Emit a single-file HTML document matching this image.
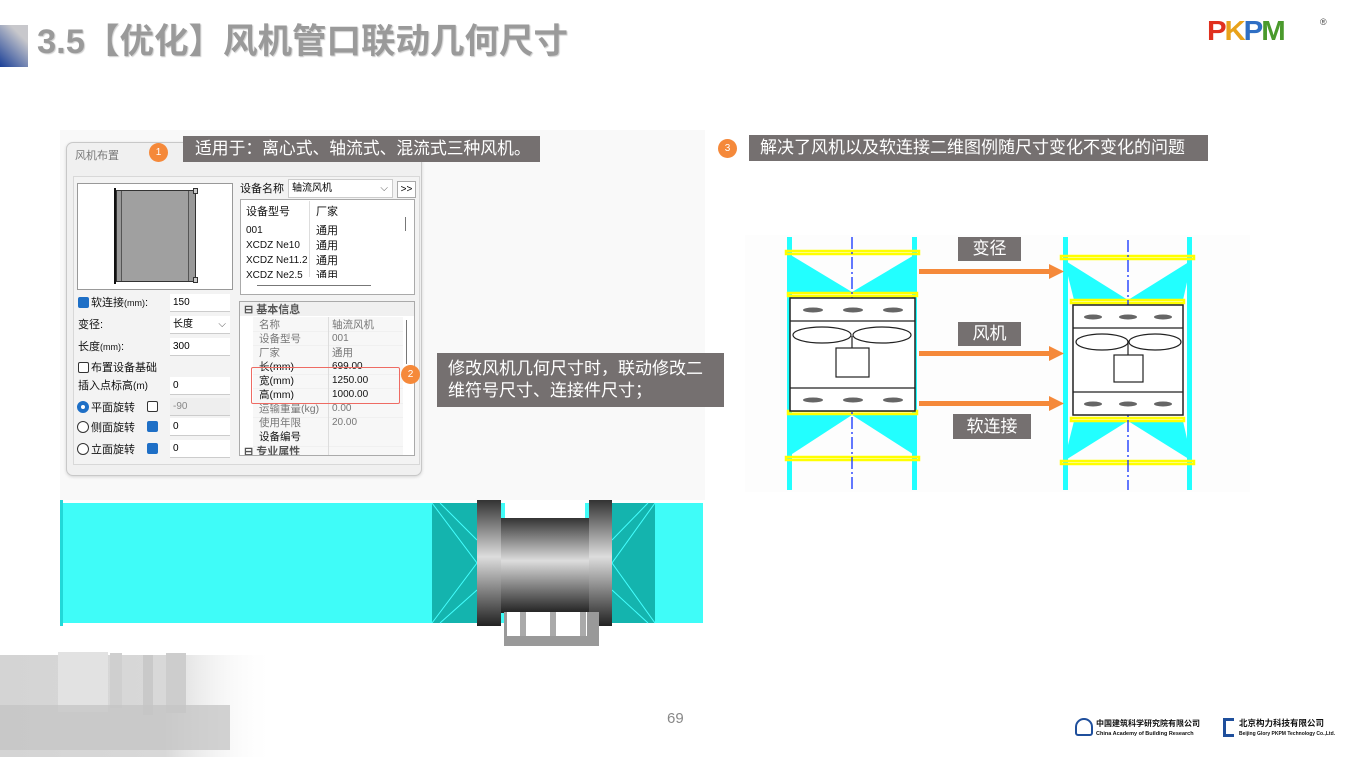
<!DOCTYPE html>
<html><head><meta charset="utf-8"><style>
*{margin:0;padding:0;box-sizing:border-box}
body{width:1352px;height:757px;position:relative;overflow:hidden;background:#fff;font-family:"Liberation Sans","Noto Sans CJK SC",sans-serif}
.a{position:absolute}
.lbl{position:absolute;background:#757070;color:#fff;font-size:16.8px;line-height:26px;white-space:nowrap}
.dot{position:absolute;width:19px;height:19px;border-radius:50%;background:#f5893a;color:#fff;font-size:10px;line-height:19px;text-align:center}
.t{position:absolute;font-size:11px;color:#111;white-space:nowrap;line-height:14px}
.g{color:#777}
.inp{position:absolute;background:#fff;border-bottom:1px solid #ccc;height:18px;font-size:10px;line-height:18px;padding-left:3px}
.cb{position:absolute;width:11px;height:11px;border:1px solid #333;border-radius:2px;background:#fff}
.cbk{background:#1e6fc6;border-color:#1e6fc6}
.rd{position:absolute;width:12px;height:12px;border:1px solid #333;border-radius:50%;background:#fff}
</style></head><body>

<!-- title -->
<div class="a" style="left:0;top:25px;width:28px;height:42px;background:linear-gradient(225deg,#c8c8cc 25%,#1a3f97 100%)"></div>
<div class="a" style="left:37px;top:21px;font-size:34.5px;font-weight:bold;color:#9a9a9a;white-space:nowrap;line-height:42px;text-shadow:1px 1px 1px #ccc">3.5【优化】风机管口联动几何尺寸</div>

<!-- PKPM logo -->
<div class="a" style="left:1207px;top:16px;font-size:28px;font-weight:900;letter-spacing:-2px;line-height:30px;font-family:'Liberation Sans',sans-serif;transform:scaleX(1.05);transform-origin:left">
<span style="color:#e0301e">P</span><span style="color:#e8a21a">K</span><span style="color:#2f6fc4">P</span><span style="color:#4a9a2c">M</span></div>
<div class="a" style="left:1320px;top:17px;font-size:9px;color:#444">®</div>

<!-- screenshot area -->
<div class="a" style="left:60px;top:130px;width:645px;height:370px;background:#f9f9f9"></div>

<!-- dialog -->
<div class="a" style="left:66px;top:142px;width:356px;height:334px;background:#f0f0f0;border:1px solid #c8c8c8;border-radius:7px;box-shadow:0 1px 3px rgba(0,0,0,.15)"></div>
<div class="t g" style="left:75px;top:149px;font-size:11px">风机布置</div>
<div class="a" style="left:73px;top:176px;width:347px;height:289px;border:1px solid #d8d8d8;background:#f3f3f3"></div>
<!-- preview -->
<div class="a" style="left:77px;top:183px;width:156px;height:107px;background:#fff;border:1px solid #999"></div>
<div class="a" style="left:114px;top:188px;width:2px;height:96px;background:#111"></div>
<div class="a" style="left:116px;top:190px;width:80px;height:92px;background:#999;border:1px solid #333"></div>
<div class="a" style="left:121px;top:191px;width:68px;height:90px;background:#a0a0a0;border-left:1px solid #555;border-right:1px solid #555"></div>
<div class="a" style="left:193px;top:188px;width:5px;height:6px;background:#ccc;border:1px solid #333"></div>
<div class="a" style="left:193px;top:277px;width:5px;height:6px;background:#ccc;border:1px solid #333"></div>

<!-- left form -->
<div class="cb cbk" style="left:78px;top:297px"></div>
<div class="t" style="left:91px;top:296px">软连接<span style="font-size:9px">(mm)</span>:</div>
<div class="inp" style="left:170px;top:294px;width:60px">150</div>
<div class="t" style="left:78px;top:318px">变径:</div>
<div class="inp" style="left:170px;top:316px;width:60px">长度<span style="position:absolute;right:4px;color:#555">⌵</span></div>
<div class="t" style="left:78px;top:340px">长度<span style="font-size:9px">(mm)</span>:</div>
<div class="inp" style="left:170px;top:338px;width:60px">300</div>
<div class="cb" style="left:78px;top:362px"></div>
<div class="t" style="left:91px;top:361px">布置设备基础</div>
<div class="t" style="left:78px;top:379px">插入点标高<span style="font-size:10px">(m)</span></div>
<div class="inp" style="left:170px;top:377px;width:60px">0</div>
<div class="rd" style="left:77px;top:401px;border:4px solid #1e6fc6"></div>
<div class="t" style="left:91px;top:401px">平面旋转</div>
<div class="cb" style="left:147px;top:401px"></div>
<div class="inp" style="left:170px;top:398px;width:60px;background:#eee;color:#888">-90</div>
<div class="rd" style="left:77px;top:421px"></div>
<div class="t" style="left:91px;top:421px">侧面旋转</div>
<div class="cb cbk" style="left:147px;top:421px"></div>
<div class="inp" style="left:170px;top:418px;width:60px">0</div>
<div class="rd" style="left:77px;top:443px"></div>
<div class="t" style="left:91px;top:443px">立面旋转</div>
<div class="cb cbk" style="left:147px;top:443px"></div>
<div class="inp" style="left:170px;top:440px;width:60px">0</div>

<!-- right top -->
<div class="t" style="left:240px;top:182px">设备名称</div>
<div class="inp" style="left:288px;top:179px;width:105px;border:1px solid #ccc;height:19px">轴流风机<span style="position:absolute;right:4px;color:#555">⌵</span></div>
<div class="a" style="left:397px;top:181px;width:19px;height:17px;border:1px solid #aaa;background:#fff;font-size:10px;text-align:center;line-height:15px">&gt;&gt;</div>
<div class="a" style="left:240px;top:199px;width:175px;height:96px;border:1px solid #aaa;background:#fff"></div>
<div class="a" style="left:309px;top:201px;width:1px;height:76px;background:#ddd"></div>
<div class="t" style="left:246px;top:205px">设备型号</div><div class="t" style="left:316px;top:205px">厂家</div>
<div class="t" style="left:246px;top:224px;font-size:10px">001</div><div class="t" style="left:316px;top:224px">通用</div>
<div class="t" style="left:246px;top:239px;font-size:10px">XCDZ Ne10</div><div class="t" style="left:316px;top:239px">通用</div>
<div class="t" style="left:246px;top:254px;font-size:10px">XCDZ Ne11.2</div><div class="t" style="left:316px;top:254px">通用</div>
<div class="a" style="left:241px;top:269px;width:158px;height:9px;overflow:hidden"><div class="t" style="left:5px;top:0;font-size:10px">XCDZ Ne2.5</div><div class="t" style="left:75px;top:0">通用</div></div>
<div class="a" style="left:257px;top:285px;width:114px;height:1px;background:#777"></div>
<div class="a" style="left:405px;top:217px;width:1px;height:14px;background:#777"></div>

<!-- properties -->
<div class="a" style="left:239px;top:301px;width:176px;height:155px;border:1px solid #aaa;background:#fff;overflow:hidden">
<div class="a" style="left:0;top:0;width:176px;height:14px;background:#f0f0f0"></div>
<div class="t" style="left:4px;top:1px;font-weight:bold;color:#555">⊟ 基本信息</div>
<div class="a" style="left:13px;top:15px;width:150px;height:142px;background:repeating-linear-gradient(#f7f7f7 0,#f7f7f7 14px,#e8e8e8 14px,#e8e8e8 14.4px)"></div>
<div class="a" style="left:88px;top:15px;width:1px;height:142px;background:#ddd"></div>
<div class="t g" style="left:19px;top:16px;font-size:10.5px">名称</div><div class="t g" style="left:92px;top:16px;font-size:10.5px">轴流风机</div>
<div class="t g" style="left:19px;top:30px;font-size:10.5px">设备型号</div><div class="t g" style="left:92px;top:30px;font-size:10px">001</div>
<div class="t g" style="left:19px;top:44px;font-size:10.5px">厂家</div><div class="t g" style="left:92px;top:44px;font-size:10.5px">通用</div>
<div class="t" style="left:19px;top:58px;font-size:10.5px">长(mm)</div><div class="t" style="left:92px;top:58px;font-size:10px">699.00</div>
<div class="t" style="left:19px;top:72px;font-size:10.5px">宽(mm)</div><div class="t" style="left:92px;top:72px;font-size:10px">1250.00</div>
<div class="t" style="left:19px;top:86px;font-size:10.5px">高(mm)</div><div class="t" style="left:92px;top:86px;font-size:10px">1000.00</div>
<div class="t g" style="left:19px;top:100px;font-size:10.5px">运输重量(kg)</div><div class="t g" style="left:92px;top:100px;font-size:10px">0.00</div>
<div class="t g" style="left:19px;top:114px;font-size:10.5px">使用年限</div><div class="t g" style="left:92px;top:114px;font-size:10px">20.00</div>
<div class="t" style="left:19px;top:128px;font-size:10.5px">设备编号</div>
<div class="t" style="left:4px;top:143px;font-weight:bold;color:#555">⊟ 专业属性</div>
<div class="a" style="left:166px;top:18px;width:1px;height:44px;background:#777"></div>
</div>
<div class="a" style="left:251px;top:367px;width:149px;height:37px;border:1.5px solid #ee6b63;border-radius:2px"></div>

<!-- labels -->
<div class="dot" style="left:149px;top:143px">1</div>
<div class="lbl" style="left:183px;top:136px;width:357px;padding-left:12px">适用于：离心式、轴流式、混流式三种风机。</div>
<div class="dot" style="left:401px;top:365px">2</div>
<div class="lbl" style="left:437px;top:353px;width:287px;height:54px;padding:5px 0 0 11px;line-height:22px;font-size:17px">修改风机几何尺寸时，联动修改二<br>维符号尺寸、连接件尺寸；</div>
<div class="dot" style="left:718px;top:139px">3</div>
<div class="lbl" style="left:749px;top:135px;width:459px;padding-left:11px;font-size:17px">解决了风机以及软连接二维图例随尺寸变化不变化的问题</div>

<svg class="a" style="left:0;top:0" width="1352" height="757">
<defs>
<linearGradient id="mg" x1="0" y1="0" x2="0" y2="1"><stop offset="0" stop-color="#333"/><stop offset=".45" stop-color="#ddd"/><stop offset="1" stop-color="#222"/></linearGradient>
<linearGradient id="bl" x1="0" y1="0" x2="1" y2="0"><stop offset="0" stop-color="#d4d4d4"/><stop offset=".6" stop-color="#d8d8d8"/><stop offset="1" stop-color="#fff" stop-opacity="0"/></linearGradient>
</defs>
<!-- duct -->
<rect x="60" y="503" width="643" height="120" fill="#3ffcf8"/>
<rect x="60" y="500" width="3" height="126" fill="#22d8d8"/>
<rect x="432" y="503" width="45" height="120" fill="#14b4ae"/>
<rect x="612" y="503" width="43" height="120" fill="#14b4ae"/>
<path d="M432 503L477 563L432 623M655 503L612 563L655 623" stroke="#4ff" stroke-width="1" fill="none"/>
<path d="M440 503L477 540M440 623L477 590M648 503L612 540M648 623L612 590" stroke="#4ff" stroke-width="1"/>
<rect x="477" y="500" width="24" height="126" fill="url(#mg)"/>
<rect x="589" y="500" width="23" height="126" fill="url(#mg)"/>
<rect x="501" y="518" width="88" height="95" fill="url(#mg)"/>
<rect x="505" y="500" width="80" height="18" fill="#fff"/>
<rect x="504" y="612" width="95" height="34" fill="#999"/>
<rect x="507" y="612" width="80" height="24" fill="#fff"/>
<rect x="520" y="612" width="6" height="24" fill="#aaa"/><rect x="550" y="612" width="6" height="24" fill="#aaa"/><rect x="580" y="612" width="6" height="24" fill="#aaa"/>

<!-- bottom-left building -->
<rect x="0" y="655" width="275" height="102" fill="url(#bl)"/>
<rect x="58" y="652" width="50" height="60" fill="#e2e2e2"/>
<rect x="110" y="653" width="12" height="55" fill="#cfcfcf"/>
<rect x="143" y="655" width="10" height="60" fill="#c9c9c9"/>
<rect x="166" y="653" width="20" height="60" fill="#cdcdcd"/>
<rect x="0" y="705" width="230" height="45" fill="#c4c4c4" opacity=".75"/>

<!-- right diagram -->
<rect x="745" y="235" width="505" height="257" fill="#fdfdfd"/>
<rect x="787" y="237" width="5" height="253" fill="#2ff"/>
<rect x="912" y="237" width="5" height="253" fill="#2ff"/>
<polygon points="789,254 852,292 789,294" fill="#2ff"/><polygon points="916,254 852,292 916,294" fill="#2ff"/>
<polygon points="789,415 852,415 789,456" fill="#2ff"/><polygon points="916,415 852,415 916,456" fill="#2ff"/>
<g fill="none" stroke="#ff0" stroke-width="2.5">
<rect x="786" y="251" width="133" height="3"/><rect x="788" y="293" width="129" height="3"/>
<rect x="788" y="411" width="129" height="3"/><rect x="786" y="457" width="133" height="3"/></g>
<line x1="852" y1="237" x2="852" y2="490" stroke="#1030ff" stroke-width="1.3" stroke-dasharray="12,3,2,3"/>
<rect x="790" y="298" width="125" height="113" stroke="#222" stroke-width="1.5" fill="#fff"/>
<g stroke="#222" stroke-width="1.2" fill="none">
<line x1="790" y1="321" x2="915" y2="321"/><line x1="790" y1="388" x2="915" y2="388"/>
<ellipse cx="822" cy="335" rx="29" ry="8"/><ellipse cx="882" cy="335" rx="29" ry="8"/>
<line x1="852" y1="336" x2="852" y2="348"/><rect x="836" y="348" width="33" height="29"/></g>
<g fill="#666"><ellipse cx="813" cy="310" rx="10" ry="2.5"/><ellipse cx="853" cy="310" rx="10" ry="2.5"/><ellipse cx="893" cy="310" rx="10" ry="2.5"/>
<ellipse cx="813" cy="400" rx="10" ry="2.5"/><ellipse cx="853" cy="400" rx="10" ry="2.5"/><ellipse cx="893" cy="400" rx="10" ry="2.5"/></g>
<rect x="1063" y="237" width="5" height="253" fill="#2ff"/>
<rect x="1187" y="237" width="5" height="253" fill="#2ff"/>
<polygon points="1064,260 1128,300 1074,300" fill="#2ff"/><polygon points="1192,260 1128,300 1183,300" fill="#2ff"/>
<polygon points="1074,421 1128,421 1064,461" fill="#2ff"/><polygon points="1183,421 1128,421 1192,461" fill="#2ff"/>
<g fill="none" stroke="#ff0" stroke-width="2.5">
<rect x="1061" y="256" width="133" height="3"/><rect x="1071" y="300" width="113" height="3"/>
<rect x="1071" y="418" width="113" height="3"/><rect x="1061" y="461" width="133" height="3"/></g>
<line x1="1128" y1="240" x2="1128" y2="490" stroke="#1030ff" stroke-width="1.3" stroke-dasharray="12,3,2,3"/>
<rect x="1073" y="305" width="110" height="110" stroke="#222" stroke-width="1.5" fill="#fff"/>
<g stroke="#222" stroke-width="1.2" fill="none">
<line x1="1073" y1="328" x2="1183" y2="328"/><line x1="1073" y1="392" x2="1183" y2="392"/>
<ellipse cx="1102" cy="342" rx="26" ry="8"/><ellipse cx="1155" cy="342" rx="26" ry="8"/>
<line x1="1128" y1="343" x2="1128" y2="355"/><rect x="1114" y="355" width="29" height="27"/></g>
<g fill="#666"><ellipse cx="1093" cy="317" rx="9" ry="2.5"/><ellipse cx="1128" cy="317" rx="9" ry="2.5"/><ellipse cx="1163" cy="317" rx="9" ry="2.5"/>
<ellipse cx="1093" cy="404" rx="9" ry="2.5"/><ellipse cx="1128" cy="404" rx="9" ry="2.5"/><ellipse cx="1163" cy="404" rx="9" ry="2.5"/></g>
<g fill="#f5893a">
<rect x="919" y="269" width="130" height="5"/><polygon points="1049,264 1064,271.5 1049,279"/>
<rect x="919" y="351" width="130" height="5"/><polygon points="1049,346 1064,353.5 1049,361"/>
<rect x="919" y="401" width="130" height="5"/><polygon points="1049,396 1064,403.5 1049,411"/></g>
</svg>
<div class="lbl" style="left:958px;top:237px;width:63px;height:24px;line-height:24px;text-align:center;font-size:17px">变径</div>
<div class="lbl" style="left:958px;top:322px;width:63px;height:24px;line-height:24px;text-align:center;font-size:17px">风机</div>
<div class="lbl" style="left:953px;top:414px;width:78px;height:25px;line-height:25px;text-align:center;font-size:17px">软连接</div>

<div class="a" style="left:667px;top:710px;font-size:15px;color:#888">69</div>

<!-- bottom logos -->
<div class="a" style="left:1075px;top:718px;width:18px;height:18px;border:2px solid #1f4f9c;border-radius:50% 50% 3px 3px"></div>
<div class="a" style="left:1096px;top:719px;font-size:8px;font-weight:bold;color:#111;line-height:9px;white-space:nowrap">中国建筑科学研究院有限公司<br><span style="font-size:5.5px">China Academy of Building Research</span></div>
<div class="a" style="left:1223px;top:718px;width:11px;height:19px;border:3px solid #1f4f9c;border-right:none"></div>
<div class="a" style="left:1239px;top:719px;font-size:8.5px;font-weight:bold;color:#111;line-height:9px;white-space:nowrap">北京构力科技有限公司<br><span style="font-size:5px">Beijing Glory PKPM Technology Co.,Ltd.</span></div>
</body></html>
